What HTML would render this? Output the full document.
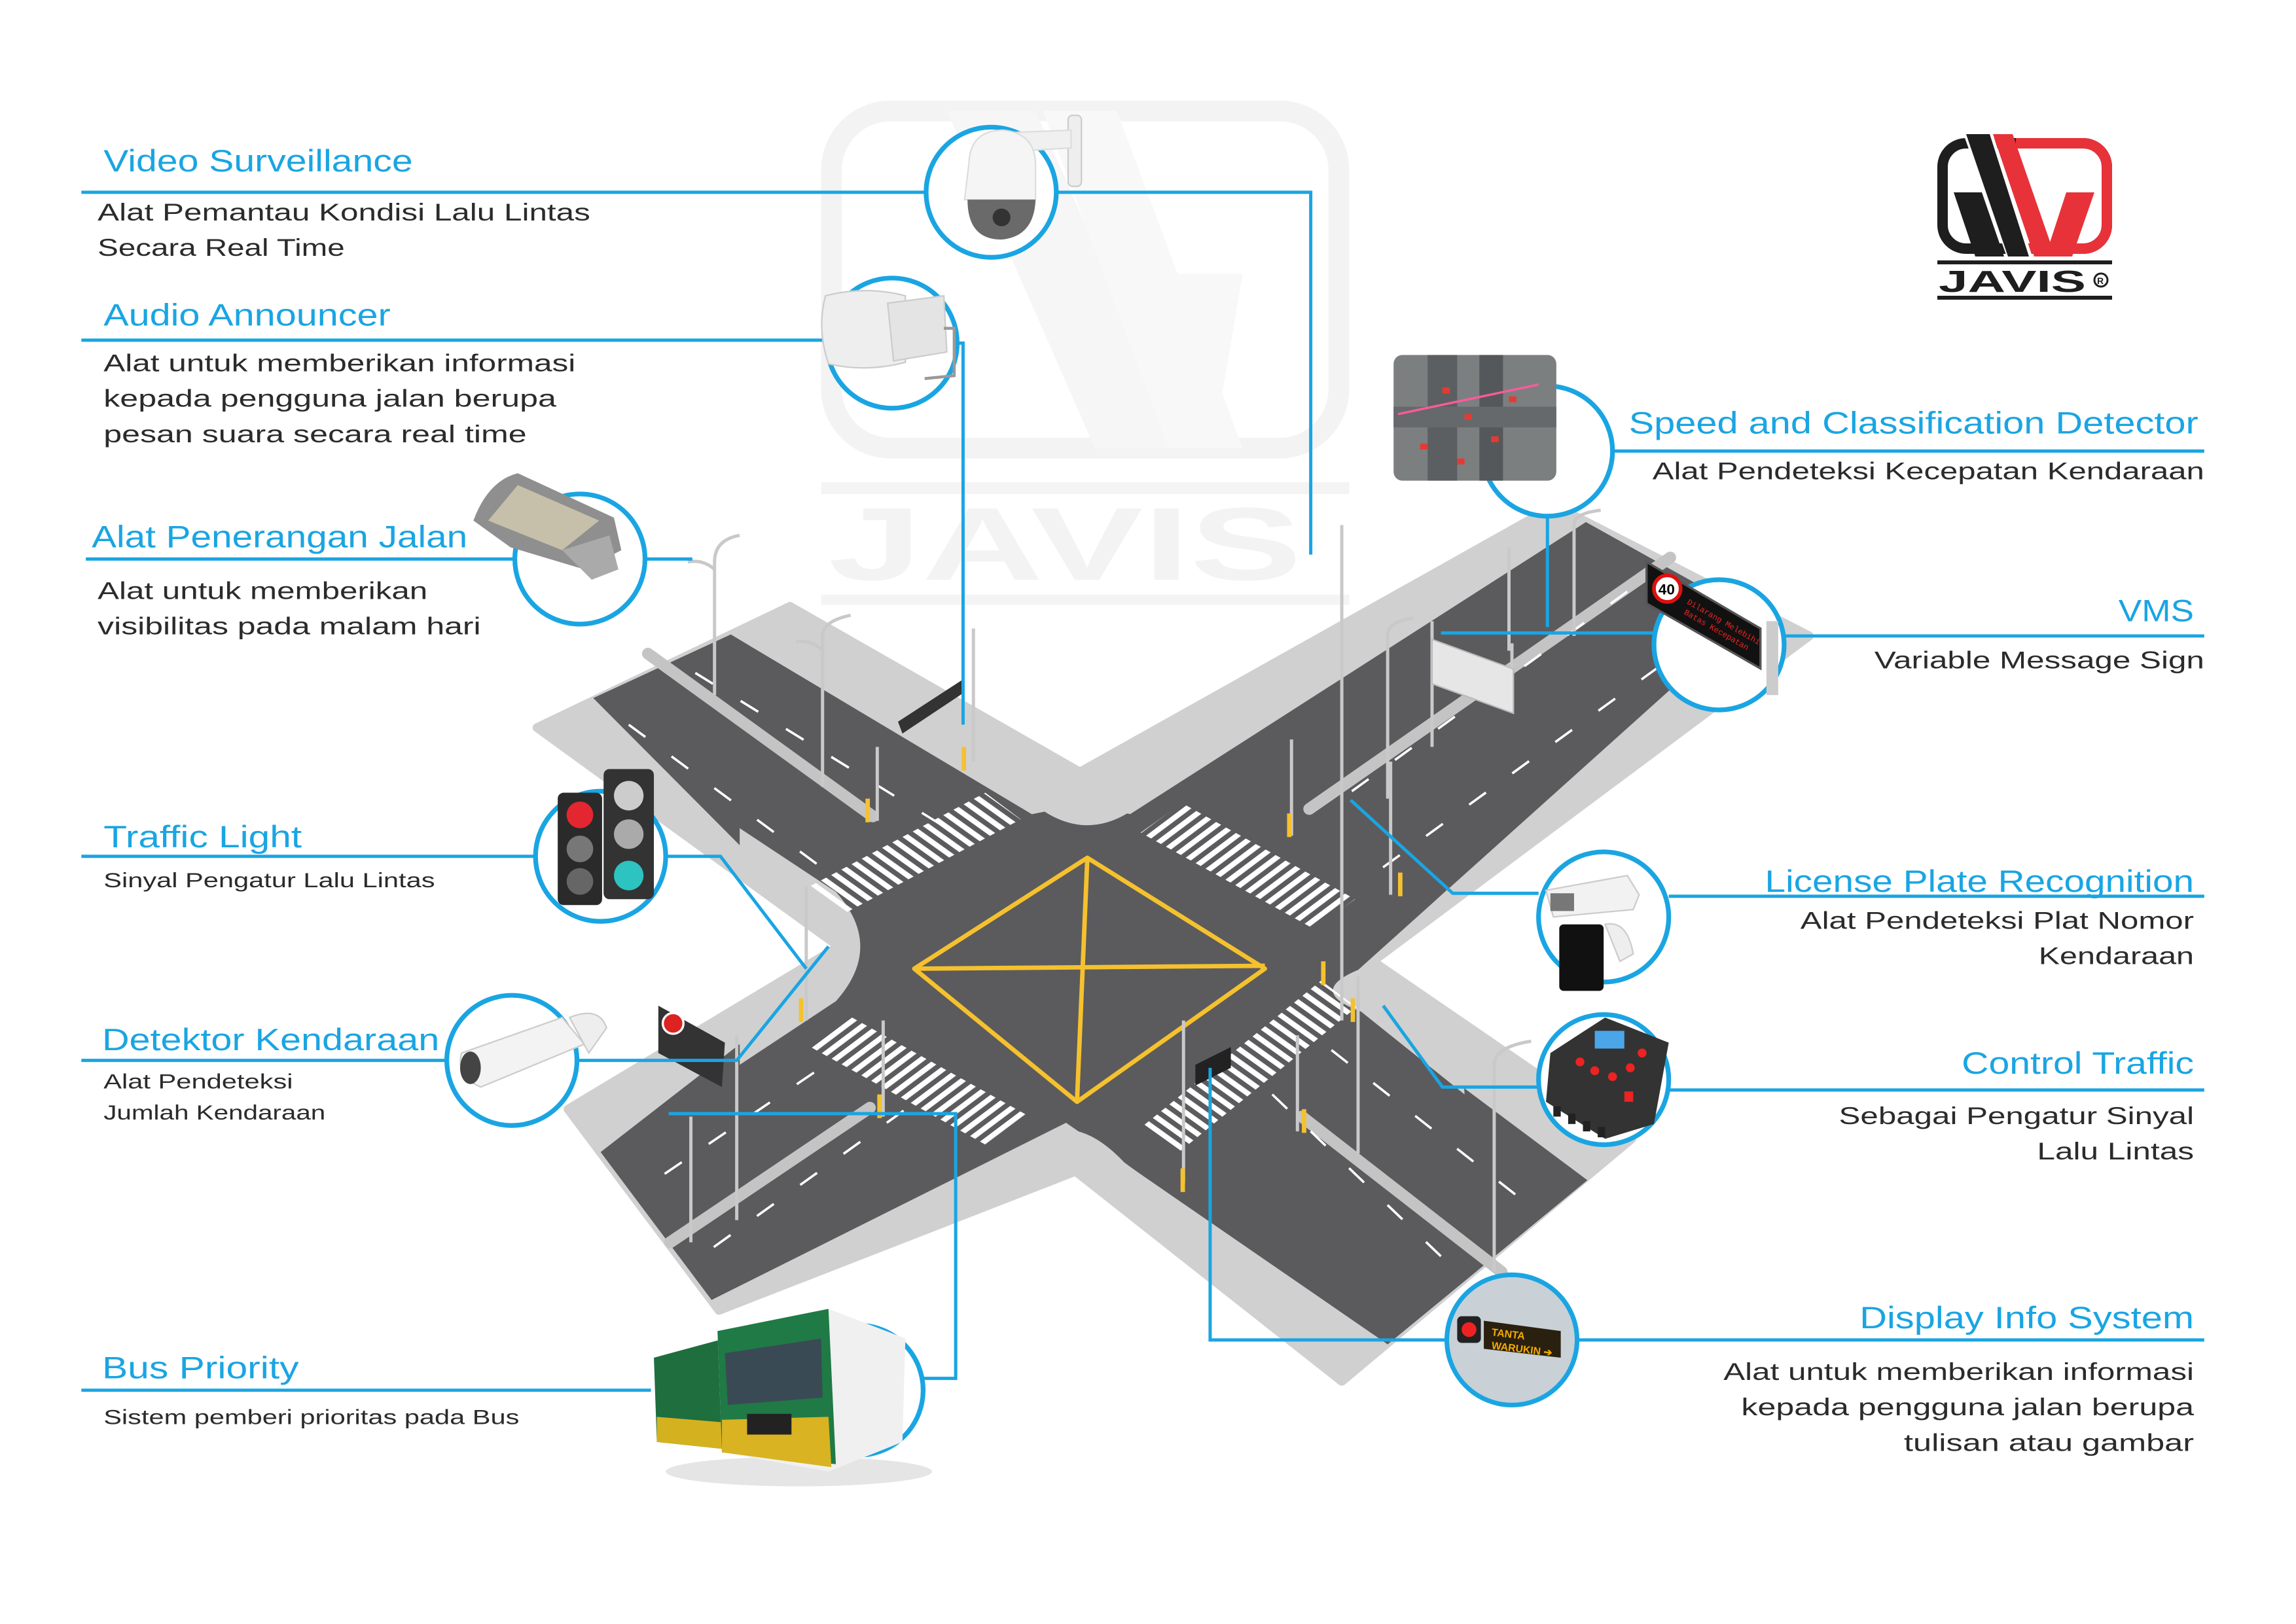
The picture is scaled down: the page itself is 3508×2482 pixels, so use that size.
<!DOCTYPE html>
<html><head><meta charset="utf-8">
<style>
html,body{margin:0;padding:0;background:#fff;}
svg{display:block;}
.t{font-family:"Liberation Sans",sans-serif;fill:#1aa5e2;font-size:21px;}
.b{font-family:"Liberation Sans",sans-serif;fill:#2b2b2b;font-size:16.5px;}
.s{font-family:"Liberation Sans",sans-serif;fill:#2b2b2b;font-size:14px;}
.ln{stroke:#1aa5e2;stroke-width:2.2;fill:none;}
.c{stroke:#1aa5e2;stroke-width:3.2;fill:#fff;}
.pole{stroke:#c9c9c9;stroke-width:2.2;fill:none;}
</style></head>
<body>
<svg width="3508" height="2482" viewBox="0 0 3508 2482" xmlns="http://www.w3.org/2000/svg">
<defs>
 <pattern id="stA" width="7" height="7" patternUnits="userSpaceOnUse" patternTransform="rotate(-54.4)"><rect x="0" y="0" width="3.6" height="7" fill="#fff"/></pattern>
 <pattern id="stB" width="7" height="7" patternUnits="userSpaceOnUse" patternTransform="rotate(53.1)"><rect x="0" y="0" width="3.6" height="7" fill="#fff"/></pattern>
 <clipPath id="rc"><rect x="3080" y="190" width="200" height="220"/></clipPath>
 <clipPath id="xc"><polygon points="363,492 534,410 730,522 1051,342 1223,430 928,650 1103,770 907,934 727,792 486,886 384,750 567,640"/></clipPath>
</defs>
<rect width="3508" height="2482" fill="#fff"/>
<g transform="scale(2.26031)">
 <!-- watermark -->
 <rect x="562" y="75" width="343" height="228" rx="40" fill="none" stroke="#f3f3f3" stroke-width="14"/>
 <polygon points="640,75 700,75 800,303 740,303" fill="#f6f6f6"/>
 <polygon points="705,75 755,75 840,303 790,303" fill="#f8f8f8"/>
 <polygon points="780,185 840,185 820,303 790,303" fill="#f8f8f8"/>
 <rect x="555" y="326" width="357" height="8" fill="#f4f4f4"/>
 <text x="560" y="392" font-family="Liberation Sans" font-weight="bold" font-size="70" fill="#f3f3f3" textLength="320" lengthAdjust="spacingAndGlyphs">JAVIS</text>
 <rect x="555" y="402" width="357" height="7" fill="#f4f4f4"/>

 <!-- road base -->
 <polygon points="363,492 534,410 730,522 1051,342 1223,430 928,650 1103,770 907,934 727,792 486,886 384,750 567,640" fill="#d0d0d0" stroke="#d0d0d0" stroke-width="6" stroke-linejoin="round"/>
 <g fill="#5b5b5d">
  <polygon points="401,472 494,429 705,555 598,670"/>
  <polygon points="1072,353 1185,416 880,690 760,553"/>
  <polygon points="875,650 1073,798 938,909 700,745"/>
  <polygon points="406,779 481,879 735,752 585,640"/>
  <polygon points="590,640 650,560 735,543 820,565 885,648 880,700 800,760 735,756 640,740 588,690"/>
 </g>
 <!-- curb wedges (clipped to X) -->
 <g fill="#d0d0d0" clip-path="url(#xc)">
  <path d="M600,480 L708,550 Q735,566 762,550 L870,480 Z"/>
  <path d="M500,560 L565,603 Q598,640 565,677 L500,720 Z"/>
  <path d="M980,600 L920,655 Q882,670 920,684 L990,740 Z"/>
  <path d="M620,810 L700,770 Q728,752 760,786 L820,830 Z"/>
 </g>
 <!-- medians -->
 <g stroke="#c4c4c4" stroke-width="8" stroke-linecap="round">
  <line x1="438" y1="442" x2="590" y2="552"/>
  <line x1="1129" y1="377" x2="885" y2="547"/>
  <line x1="880" y1="755" x2="1015" y2="860"/>
  <line x1="588" y1="749" x2="453" y2="840"/>
 </g>
 <!-- lane dashes -->
 <g stroke="#fff" stroke-width="1.6" fill="none" stroke-dasharray="14 22">
  <line x1="425" y1="490" x2="560" y2="590"/>
  <line x1="470" y1="455" x2="640" y2="560"/>
  <line x1="1100" y1="400" x2="900" y2="545"/>
  <line x1="1150" y1="430" x2="930" y2="590"/>
  <line x1="900" y1="710" x2="1040" y2="820"/>
  <line x1="860" y1="740" x2="985" y2="860"/>
  <line x1="580" y1="705" x2="440" y2="800"/>
  <line x1="640" y1="730" x2="480" y2="845"/>
 </g>
 <!-- crosswalks -->
 <polygon points="548,599 666,536 690,554 572,617" fill="url(#stA)"/>
 <polygon points="773,761 893,663 917,681 797,779" fill="url(#stA)"/>
 <polygon points="771,563 888,628 916,608 799,543" fill="url(#stB)"/>
 <polygon points="548,708 668,775 696,755 576,688" fill="url(#stB)"/>
 <!-- yellow box -->
 <g stroke="#f5c12e" stroke-width="3" fill="none" stroke-linejoin="round">
  <polygon points="735,580 855,655 728,745 618,655"/>
  <line x1="735" y1="580" x2="728" y2="745"/>
  <line x1="618" y1="655" x2="855" y2="653"/>
 </g>
 <!-- poles -->
 <g class="pole">
  <line x1="907" y1="355" x2="907" y2="690"/>
  <path d="M483,470 V380 Q483,365 500,362 M483,385 Q475,378 465,380"/>
  <path d="M556,532 V430 Q556,420 575,416 M556,440 Q548,432 538,434"/>
  <line x1="1020" y1="370" x2="1020" y2="440"/>
  <path d="M1064,430 V355 Q1064,347 1082,345"/>
  <path d="M938,540 V430 Q938,420 955,418"/>
  <path d="M1010,860 V720 Q1010,708 1035,704"/>
  <line x1="918" y1="660" x2="918" y2="780"/>
  <line x1="467" y1="755" x2="467" y2="840"/>
  <line x1="498" y1="700" x2="498" y2="825"/>
  <line x1="658" y1="425" x2="658" y2="515"/>
  <line x1="593" y1="505" x2="593" y2="555"/>
  <line x1="873" y1="500" x2="873" y2="565"/>
  <line x1="940" y1="515" x2="940" y2="605"/>
  <line x1="545" y1="600" x2="545" y2="690"/>
  <line x1="597" y1="690" x2="597" y2="755"/>
  <line x1="800" y1="690" x2="800" y2="800"/>
  <line x1="877" y1="700" x2="877" y2="765"/>
  <line x1="968" y1="420" x2="968" y2="505"/>
  <line x1="1022" y1="435" x2="1022" y2="465"/>
 </g>
 <rect x="968" y="425" width="55" height="30" fill="#e6e6e6" stroke="#bbb" transform="skewY(20) translate(0,-345)"/>
 <polygon points="607,488 650,460 652,468 610,496" fill="#333"/>
 <polygon points="445,680 490,705 488,735 445,712" fill="#333"/>
 <circle cx="455" cy="692" r="7" fill="#d22" stroke="#fff" stroke-width="1.5"/>
 <polygon points="808,720 832,708 832,722 808,734" fill="#222"/>
 <g fill="#f5c12e"><rect x="650" y="505" width="3" height="16"/><rect x="585" y="540" width="3" height="16"/><rect x="870" y="550" width="3" height="16"/><rect x="945" y="590" width="3" height="16"/><rect x="540" y="675" width="3" height="16"/><rect x="593" y="740" width="3" height="16"/><rect x="798" y="790" width="3" height="16"/><rect x="880" y="750" width="3" height="16"/><rect x="893" y="650" width="3" height="16"/><rect x="913" y="675" width="3" height="16"/></g>

 <!-- connectors -->
 <g class="ln">
  <polyline points="715,130 886,130 886,375"/>
  <polyline points="648,232 651,232 651,490"/>
  <line x1="436" y1="378" x2="468" y2="378"/>
  <polyline points="450,579 487,579 545,655"/>
  <polyline points="390,717 498,717 560,640"/>
  <polyline points="623,932 646,932 646,753 452,753"/>
  <line x1="1046" y1="349" x2="1046" y2="424"/>
  <line x1="974" y1="428" x2="1118" y2="428"/>
  <polyline points="1040,604 982,604 913,541"/>
  <polyline points="1040,735 975,735 935,680"/>
  <polyline points="978,906 818,906 818,722"/>
  <line x1="55" y1="130" x2="625" y2="130"/>
  <line x1="55" y1="230" x2="558" y2="230"/>
  <line x1="58" y1="378" x2="348" y2="378"/>
  <line x1="55" y1="579" x2="362" y2="579"/>
  <line x1="55" y1="717" x2="302" y2="717"/>
  <line x1="55" y1="940" x2="440" y2="940"/>
  <line x1="1090" y1="305" x2="1490" y2="305"/>
  <line x1="1206" y1="430" x2="1490" y2="430"/>
  <line x1="1128" y1="606" x2="1490" y2="606"/>
  <line x1="1128" y1="737" x2="1490" y2="737"/>
  <line x1="1066" y1="906" x2="1490" y2="906"/>
 </g>

 <!-- circles -->
 <circle class="c" cx="670" cy="130" r="44"/>
 <circle class="c" cx="603" cy="232" r="44"/>
 <circle class="c" cx="392" cy="378" r="44"/>
 <circle class="c" cx="406" cy="579" r="44"/>
 <circle class="c" cx="346" cy="717" r="44"/>
 <circle class="c" cx="580" cy="940" r="44"/>
 <circle class="c" cx="1046" cy="305" r="44"/>
 <circle class="c" cx="1162" cy="436" r="44"/>
 <circle class="c" cx="1084" cy="620" r="44"/>
 <circle class="c" cx="1084" cy="730" r="44"/>
 <circle class="c" cx="1022" cy="906" r="44"/>

 <!-- icons -->
 <rect x="722" y="78" width="9" height="48" rx="3" fill="#eee" stroke="#ccc"/>
 <path d="M675,90 L724,88 L724,100 L690,102 Z" fill="#f0f0f0" stroke="#ddd"/>
 <path d="M655,110 Q656,88 678,88 Q700,90 700,112 L700,135 L652,135 Z" fill="#f5f5f5" stroke="#ddd"/>
 <path d="M654,135 Q654,162 677,162 Q699,160 700,135 Z" fill="#6a6a6a"/>
 <circle cx="677" cy="147" r="6" fill="#333"/>
 <path d="M558,200 Q585,193 612,200 L612,245 Q585,252 560,246 Q552,222 558,200Z" fill="#eee" stroke="#ccc"/>
 <path d="M600,205 L638,200 L640,238 L604,244Z" fill="#e4e4e4" stroke="#ccc"/>
 <path d="M638,222 L645,222 L645,254 L625,256" fill="none" stroke="#999" stroke-width="2"/>
 <path d="M320,352 Q330,325 350,320 L415,350 L420,372 L395,385 L345,370 Z" fill="#8f8f8f"/>
 <path d="M330,352 L350,328 L405,352 L380,372 Z" fill="#c6c0aa"/>
 <path d="M380,372 L412,362 L418,385 L400,392 Z" fill="#aaa"/>
 <rect x="377" y="536" width="30" height="76" rx="4" fill="#2a2a2a"/>
 <rect x="408" y="520" width="34" height="88" rx="4" fill="#333"/>
 <circle cx="392" cy="551" r="9" fill="#e3262f"/><circle cx="392" cy="574" r="9" fill="#777"/><circle cx="392" cy="596" r="9" fill="#666"/>
 <circle cx="425" cy="538" r="10" fill="#ccc"/><circle cx="425" cy="564" r="10" fill="#aaa"/><circle cx="425" cy="592" r="10" fill="#2cc3c0"/>
 <path d="M312,712 L380,688 L395,706 L325,735 Q308,728 312,712Z" fill="#f3f3f3" stroke="#ccc"/>
 <ellipse cx="318" cy="722" rx="7" ry="11" fill="#444"/>
 <path d="M385,688 Q405,680 410,695 L398,712 Z" fill="#eee" stroke="#ccc"/>
 <ellipse cx="540" cy="995" rx="90" ry="10" fill="#e5e5e5"/>
 <path d="M442,918 L490,905 L492,980 L444,975Z" fill="#1e6e3e"/>
 <path d="M444,958 L492,962 L492,980 L444,975Z" fill="#d4b21f"/>
 <path d="M485,900 L560,885 L612,905 L610,975 L560,995 L488,982Z" fill="#f0f0f0"/>
 <path d="M485,900 L560,885 L565,990 L488,982Z" fill="#1f7a45"/>
 <path d="M490,915 L555,905 L556,945 L492,950Z" fill="#3a4a55"/>
 <path d="M488,960 L560,958 L562,992 L488,982Z" fill="#d9b321"/>
 <rect x="505" y="956" width="30" height="14" fill="#222"/>
 <rect x="942" y="240" width="110" height="85" rx="6" fill="#7c7f80"/>
 <rect x="965" y="240" width="20" height="85" fill="#5c5f62"/>
 <rect x="1000" y="240" width="16" height="85" fill="#55585a"/>
 <rect x="942" y="275" width="110" height="14" fill="#66696b"/>
 <g fill="#e53a33"><rect x="975" y="262" width="5" height="4"/><rect x="990" y="280" width="5" height="4"/><rect x="1008" y="295" width="5" height="4"/><rect x="960" y="300" width="5" height="4"/><rect x="1020" y="268" width="5" height="4"/><rect x="985" y="310" width="5" height="4"/></g>
 <line x1="945" y1="280" x2="1040" y2="260" stroke="#ff5a9a" stroke-width="1.5"/>
 <polygon points="1113,380 1190,425 1190,452 1113,408" fill="#111" stroke="#555" stroke-width="1.5"/>
 <circle cx="1127" cy="398" r="9" fill="#fff" stroke="#d11" stroke-width="2.5"/>
 <text x="1121" y="402" font-family="Liberation Sans" font-weight="bold" font-size="10" fill="#000">40</text>
 <text x="1140" y="408" font-family="Liberation Mono" font-size="5.5" fill="#e22" transform="rotate(30 1140 408)">Dilarang Melebihi</text>
 <text x="1138" y="415" font-family="Liberation Mono" font-size="5.5" fill="#e22" transform="rotate(30 1138 415)">Batas Kecepatan</text>
 <rect x="1194" y="420" width="8" height="50" fill="#ccc"/>
 <path d="M1045,602 L1100,592 L1108,605 L1104,615 L1050,620 Z" fill="#f2f2f2" stroke="#ccc"/>
 <rect x="1048" y="604" width="16" height="12" fill="#777"/>
 <rect x="1054" y="625" width="30" height="45" rx="3" fill="#111"/>
 <path d="M1085,625 Q1100,622 1104,645 L1095,650 Z" fill="#eee" stroke="#ccc"/>
 <polygon points="1048,712 1085,688 1128,705 1118,760 1085,770 1045,745" fill="#333"/>
 <rect x="1078" y="697" width="20" height="12" fill="#4aa6e8"/>
 <g fill="#e22"><circle cx="1068" cy="718" r="3"/><circle cx="1078" cy="724" r="3"/><circle cx="1090" cy="728" r="3"/><circle cx="1102" cy="722" r="3"/><circle cx="1110" cy="712" r="3"/><rect x="1098" y="738" width="6" height="7"/></g>
 <g fill="#222"><rect x="1050" y="748" width="5" height="7"/><rect x="1060" y="753" width="5" height="7"/><rect x="1070" y="758" width="5" height="7"/><rect x="1080" y="762" width="5" height="7"/></g>
 <circle cx="1022" cy="906" r="42.4" fill="#c9d0d6"/>
 <rect x="985" y="890" width="16" height="18" rx="3" fill="#222"/>
 <circle cx="993" cy="899" r="5" fill="#e22"/>
 <polygon points="1003,893 1055,900 1055,918 1003,912" fill="#2a2010"/>
 <text x="1008" y="903" font-family="Liberation Sans" font-weight="bold" font-size="7" fill="#f2a900" transform="rotate(7 1008 903)">TANTA</text>
 <text x="1008" y="912" font-family="Liberation Sans" font-weight="bold" font-size="7" fill="#f2a900" transform="rotate(7 1008 912)">WARUKIN ➔</text>

 <!-- text -->
 <text class="t" x="70" y="116" textLength="209" lengthAdjust="spacingAndGlyphs">Video Surveillance</text>
 <text class="b" x="66" y="149" textLength="333" lengthAdjust="spacingAndGlyphs">Alat Pemantau Kondisi Lalu Lintas</text>
 <text class="b" x="66" y="173" textLength="167" lengthAdjust="spacingAndGlyphs">Secara Real Time</text>
 <text class="t" x="70" y="220" textLength="194" lengthAdjust="spacingAndGlyphs">Audio Announcer</text>
 <text class="b" x="70" y="251" textLength="319" lengthAdjust="spacingAndGlyphs">Alat untuk memberikan informasi</text>
 <text class="b" x="70" y="275" textLength="306" lengthAdjust="spacingAndGlyphs">kepada pengguna jalan berupa</text>
 <text class="b" x="70" y="299" textLength="286" lengthAdjust="spacingAndGlyphs">pesan suara secara real time</text>
 <text class="t" x="62" y="370" textLength="254" lengthAdjust="spacingAndGlyphs">Alat Penerangan Jalan</text>
 <text class="b" x="66" y="405" textLength="223" lengthAdjust="spacingAndGlyphs">Alat untuk memberikan</text>
 <text class="b" x="66" y="429" textLength="259" lengthAdjust="spacingAndGlyphs">visibilitas pada malam hari</text>
 <text class="t" x="70" y="573" textLength="134" lengthAdjust="spacingAndGlyphs">Traffic Light</text>
 <text class="s" x="70" y="600" textLength="224" lengthAdjust="spacingAndGlyphs">Sinyal Pengatur Lalu Lintas</text>
 <text class="t" x="69" y="710" textLength="228" lengthAdjust="spacingAndGlyphs">Detektor Kendaraan</text>
 <text class="s" x="70" y="736" textLength="128" lengthAdjust="spacingAndGlyphs">Alat Pendeteksi</text>
 <text class="s" x="70" y="757" textLength="150" lengthAdjust="spacingAndGlyphs">Jumlah Kendaraan</text>
 <text class="t" x="69" y="932" textLength="133" lengthAdjust="spacingAndGlyphs">Bus Priority</text>
 <text class="s" x="70" y="963" textLength="281" lengthAdjust="spacingAndGlyphs">Sistem pemberi prioritas pada Bus</text>

 <text class="t" x="1101" y="293" textLength="385" lengthAdjust="spacingAndGlyphs">Speed and Classification Detector</text>
 <text class="b" x="1117" y="324" textLength="373" lengthAdjust="spacingAndGlyphs">Alat Pendeteksi Kecepatan Kendaraan</text>
 <text class="t" x="1432" y="420" textLength="51" lengthAdjust="spacingAndGlyphs">VMS</text>
 <text class="b" x="1267" y="452" textLength="223" lengthAdjust="spacingAndGlyphs">Variable Message Sign</text>
 <text class="t" x="1193" y="603" textLength="290" lengthAdjust="spacingAndGlyphs">License Plate Recognition</text>
 <text class="b" x="1217" y="628" textLength="266" lengthAdjust="spacingAndGlyphs">Alat Pendeteksi Plat Nomor</text>
 <text class="b" x="1378" y="652" textLength="105" lengthAdjust="spacingAndGlyphs">Kendaraan</text>
 <text class="t" x="1326" y="726" textLength="157" lengthAdjust="spacingAndGlyphs">Control Traffic</text>
 <text class="b" x="1243" y="760" textLength="240" lengthAdjust="spacingAndGlyphs">Sebagai Pengatur Sinyal</text>
 <text class="b" x="1377" y="784" textLength="106" lengthAdjust="spacingAndGlyphs">Lalu Lintas</text>
 <text class="t" x="1257" y="898" textLength="226" lengthAdjust="spacingAndGlyphs">Display Info System</text>
 <text class="b" x="1165" y="933" textLength="318" lengthAdjust="spacingAndGlyphs">Alat untuk memberikan informasi</text>
 <text class="b" x="1177" y="957" textLength="306" lengthAdjust="spacingAndGlyphs">kepada pengguna jalan berupa</text>
 <text class="b" x="1287" y="981" textLength="196" lengthAdjust="spacingAndGlyphs">tulisan atau gambar</text>
</g>

<!-- logo -->
<rect x="2968" y="219" width="251" height="161" rx="36" fill="none" stroke="#1e1e1e" stroke-width="16"/>
<rect x="2968" y="219" width="251" height="161" rx="36" fill="none" stroke="#e8323a" stroke-width="16" clip-path="url(#rc)"/>
<polygon points="3000,205 3045,205 3105,392 3066,392" fill="#fff"/>
<polygon points="3004,205 3040,205 3100,392 3068,392" fill="#1e1e1e"/>
<polygon points="2985,294 3028,294 3062,392 3018,392" fill="#1e1e1e"/>
<polygon points="3045,205 3075,205 3140,392 3108,392" fill="#e8323a"/>
<polygon points="3157,294 3200,294 3166,392 3125,392" fill="#e8323a"/>
<rect x="2960" y="398" width="267" height="6" fill="#1e1e1e"/>
<rect x="2960" y="452" width="267" height="6" fill="#1e1e1e"/>
<text x="2962" y="446" font-family="Liberation Sans" font-weight="bold" font-size="46" fill="#1e1e1e" textLength="225" lengthAdjust="spacingAndGlyphs">JAVIS</text>
<circle cx="3210" cy="428" r="10" fill="none" stroke="#1e1e1e" stroke-width="3"/>
<text x="3204" y="434" font-family="Liberation Sans" font-weight="bold" font-size="14" fill="#1e1e1e">R</text>
</svg>
</body></html>
